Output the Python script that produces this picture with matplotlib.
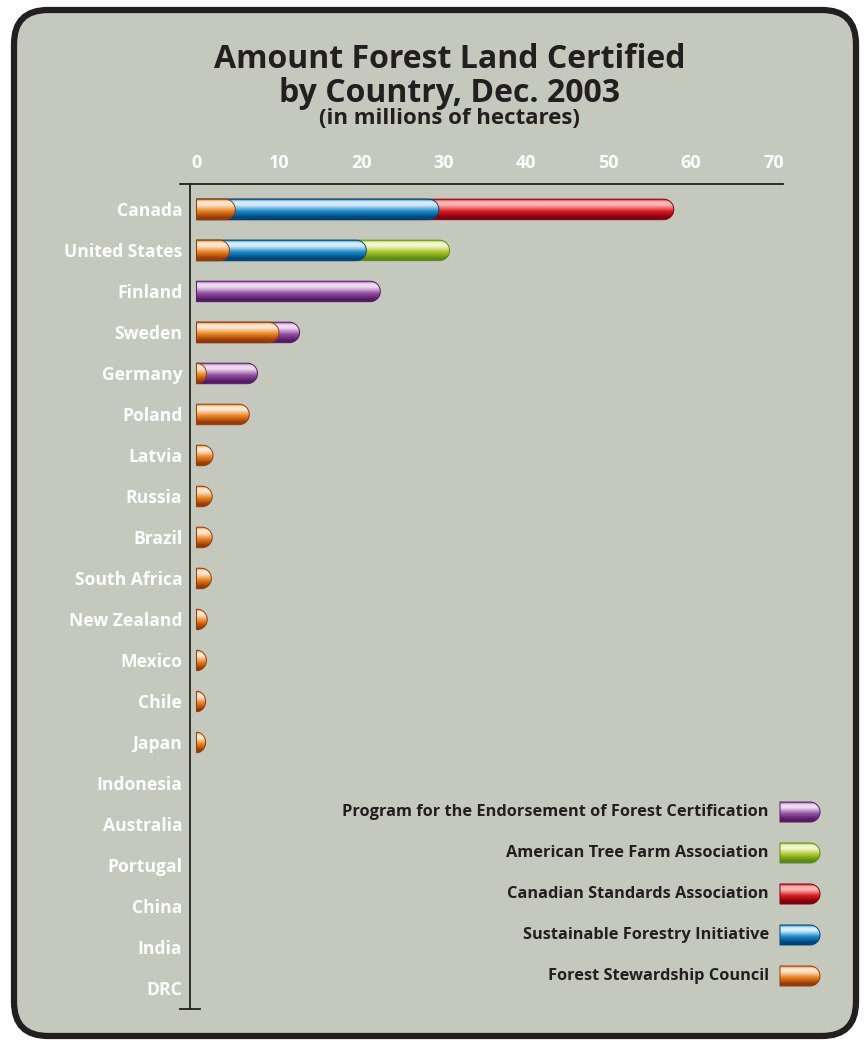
import numpy as np
import matplotlib.pyplot as plt
from matplotlib.path import Path
from matplotlib.patches import PathPatch, FancyBboxPatch
from matplotlib.colors import LinearSegmentedColormap

# data (millions of hectares)
countries = ['Canada', 'United States', 'Finland', 'Sweden', 'Germany', 'Poland',
             'Latvia', 'Russia', 'Brazil', 'South Africa', 'New Zealand', 'Mexico',
             'Chile', 'Japan', 'Indonesia', 'Australia', 'Portugal', 'China',
             'India', 'DRC']
fsc  = [4.7, 4.0, 0.0, 10.0, 1.2, 6.4, 2.0, 1.9, 1.9, 1.8, 1.3, 1.2, 1.1, 1.1, 0, 0, 0, 0, 0, 0]
sfi  = [24.7, 16.6, 0, 0, 0, 0, 0, 0, 0, 0, 0, 0, 0, 0, 0, 0, 0, 0, 0, 0]
csa  = [28.5, 0, 0, 0, 0, 0, 0, 0, 0, 0, 0, 0, 0, 0, 0, 0, 0, 0, 0, 0]
atfa = [0, 10.1, 0, 0, 0, 0, 0, 0, 0, 0, 0, 0, 0, 0, 0, 0, 0, 0, 0, 0]
pefc = [0, 0, 22.3, 2.5, 6.2, 0, 0, 0, 0, 0, 0, 0, 0, 0, 0, 0, 0, 0, 0, 0]

programs = ['Forest Stewardship Council', 'Sustainable Forestry Initiative',
            'Canadian Standards Association', 'American Tree Farm Association',
            'Program for the Endorsement of Forest Certification']
series = [fsc, sfi, csa, atfa, pefc]
# (highlight, base, shadow) for the glossy look
shades = [('#fde6cf', '#e8801f', '#963a08'),
          ('#d6edf9', '#1b89c7', '#00457a'),
          ('#f8b6b2', '#dc1b23', '#7c000f'),
          ('#f1f7d3', '#a9c521', '#5c8a1a'),
          ('#eddaf0', '#9151a1', '#551966')]

BG = '#c5c8bd'
INK = '#231f20'
FONT = ['Open Sans', 'DejaVu Sans']


def make_cmap(hi, mid, lo):
    return LinearSegmentedColormap.from_list(
        'g', [(0.0, mid), (0.12, hi), (0.28, hi), (0.58, mid), (0.88, lo), (1.0, lo)])


def glossy_bar(ax, x0, x1, yc, h, rx, colors, z):
    # flat left end, round right end, y axis is inverted
    rx = min(rx, x1 - x0)
    t = np.linspace(-np.pi / 2, np.pi / 2, 40)
    xs = np.concatenate([[x0], x1 - rx + rx * np.cos(t), [x0, x0]])
    ys = np.concatenate([[yc - h / 2], yc + h / 2 * np.sin(t), [yc + h / 2, yc - h / 2]])
    codes = [Path.MOVETO] + [Path.LINETO] * (len(xs) - 2) + [Path.CLOSEPOLY]
    patch = PathPatch(Path(np.column_stack([xs, ys]), codes), facecolor='none',
                      edgecolor=colors[2], lw=0.7, zorder=z + 0.1, clip_on=False)
    ax.add_patch(patch)
    grad = np.linspace(0, 1, 64).reshape(-1, 1)
    im = ax.imshow(grad, cmap=make_cmap(*colors), extent=(x0, x1, yc + h / 2, yc - h / 2),
                   origin='upper', aspect='auto', interpolation='bilinear', zorder=z)
    im.set_clip_path(patch)


fig = plt.figure(figsize=(8.64, 10.4), dpi=100)
fig.patch.set_facecolor('white')

# background axes in pixel units
bg = fig.add_axes([0, 0, 1, 1])
bg.set_xlim(0, 864)
bg.set_ylim(1040, 0)
bg.axis('off')
bg.add_patch(FancyBboxPatch((14, 10), 842, 1026, boxstyle='round,pad=0,rounding_size=34',
                            facecolor=BG, edgecolor=INK, lw=4.5))

bg.text(450, 60, 'Amount Forest Land Certified', ha='center', va='center',
        fontsize=23, fontweight='bold', color=INK, family=FONT)
bg.text(450, 93, 'by Country, Dec. 2003', ha='center', va='center',
        fontsize=23, fontweight='bold', color=INK, family=FONT)
bg.text(449, 119, '(in millions of hectares)', ha='center', va='center',
        fontsize=16, fontweight='bold', color=INK, family=FONT)

# axis lines
bg.plot([180, 783], [184, 184], color=INK, lw=1.3)
bg.plot([190, 190], [184, 1009], color=INK, lw=1.3)
bg.plot([180, 200], [1009, 1009], color=INK, lw=1.3)

# legend, top entry is the last series
for k, i in enumerate(range(len(programs) - 1, -1, -1)):
    yc = 812 + 41 * k
    glossy_bar(bg, 780, 820, yc, 20, 10, shades[i], 5)
    bg.text(769, yc, programs[i], ha='right', va='center', fontsize=11.8,
            fontweight='bold', color=INK, family=FONT)

# main chart
ax = fig.add_axes([190 / 864, 1 - 1009 / 1040, (783 - 190) / 864, (1009 - 184) / 1040])
ax.patch.set_visible(False)
for s in ax.spines.values():
    s.set_visible(False)

h = 0.5
rx = 1.245
ypos = np.arange(len(countries))
cum = np.cumsum(np.array(series, dtype=float), axis=0)
for i in range(len(series) - 1, -1, -1):
    for j in ypos:
        if series[i][j] > 0:
            glossy_bar(ax, 0, cum[i][j], j, h, rx, shades[i], 10 - 2 * i)

ax.set_xlim(-0.79, 71.15)
ax.set_ylim(19.5, -0.62)
ax.set_xticks(np.arange(0, 71, 10))
ax.set_yticks(ypos)
ax.set_yticklabels(countries)
ax.xaxis.tick_top()
ax.tick_params(axis='x', length=0, pad=9, labelsize=13, labelcolor='white')
ax.tick_params(axis='y', length=0, pad=5.5, labelsize=12.6, labelcolor='white')
for lab in ax.get_xticklabels() + ax.get_yticklabels():
    lab.set_fontweight('bold')
    lab.set_family(FONT)

plt.savefig('out.png', dpi=100, facecolor='white')
